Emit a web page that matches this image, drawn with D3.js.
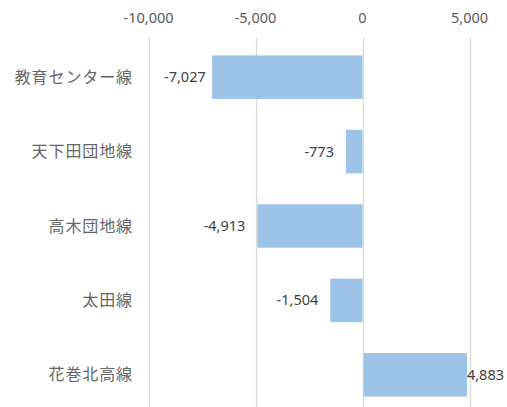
<!DOCTYPE html>
<html>
<head>
<meta charset="utf-8">
<script src="https://cdn.jsdelivr.net/npm/d3@7"></script>
<style>
  body { margin: 0; background: #fff; }
  svg { display: block; }
</style>
</head>
<body>
<svg id="chart"></svg>
<script>
// data
const lines = ["教育センター線", "天下田団地線", "高木団地線", "太田線", "花巻北高線"];
const diffs = [-7027, -773, -4913, -1504, 4883];
const xTicks = [-10000, -5000, 0, 5000];

const width = 507, height = 407;
const svg = d3.select("#chart").attr("width", width).attr("height", height);

// plot region (bottom runs a bit past the picture, as in the original)
const x = d3.scaleLinear().domain([-10000, 5000]).range([148.5, 469.5]);
const y = d3.scaleBand().domain(lines).range([40, 412]).paddingInner(0.415).paddingOuter(0.2075);

// excel style: plain hyphen, not unicode minus
const fmt = d => d3.format(",")(d).replace("\u2212", "-");

// vertical grid
svg.append("g")
  .selectAll("line")
  .data(xTicks)
  .join("line")
    .attr("x1", d => Math.round(x(d)) + 0.5)
    .attr("x2", d => Math.round(x(d)) + 0.5)
    .attr("y1", 38)
    .attr("y2", height)
    .attr("stroke", "#d9d9d9")
    .attr("stroke-width", 1.3);

// top axis labels
svg.append("g")
  .selectAll("text")
  .data(xTicks)
  .join("text")
    .attr("x", d => x(d))
    .attr("y", 23)
    .attr("text-anchor", "middle")
    .attr("font-family", "'Noto Sans', sans-serif")
    .attr("font-size", 14.5)
    .attr("fill", "#595959")
    .text(d => fmt(d));

// bars
svg.append("g")
  .selectAll("rect")
  .data(diffs)
  .join("rect")
    .attr("x", d => x(Math.min(0, d)) + (d > 0 ? 1 : 0))
    .attr("y", (d, i) => y(lines[i]))
    .attr("width", d => Math.abs(x(d) - x(0)) - (d > 0 ? 1 : 0))
    .attr("height", y.bandwidth())
    .attr("fill", "#9dc3e6");

// value labels, outside end, but kept inside the chart box
const labels = svg.append("g")
  .selectAll("text")
  .data(diffs)
  .join("text")
    .attr("y", (d, i) => y(lines[i]) + y.bandwidth() / 2 + 5)
    .attr("font-family", "'Noto Sans', sans-serif")
    .attr("font-size", 14.5)
    .attr("fill", "#404040")
    .text(d => fmt(d));

labels.each(function (d) {
  const w = this.getComputedTextLength();
  let left;
  if (d < 0) {
    left = Math.max(x(d) - 12 - w, 164);
  } else {
    left = Math.min(x(d) + 4, 504 - w);
  }
  d3.select(this).attr("x", left);
});

// category labels
svg.append("g")
  .selectAll("text")
  .data(lines)
  .join("text")
    .attr("x", 133)
    .attr("y", d => y(d) + y.bandwidth() / 2 + 5.5)
    .attr("text-anchor", "end")
    .attr("font-family", "'Noto Sans CJK JP', sans-serif")
    .attr("font-size", 16)
    .attr("letter-spacing", 0.9)
    .attr("fill", "#666666")
    .text(d => d);
</script>
</body>
</html>
